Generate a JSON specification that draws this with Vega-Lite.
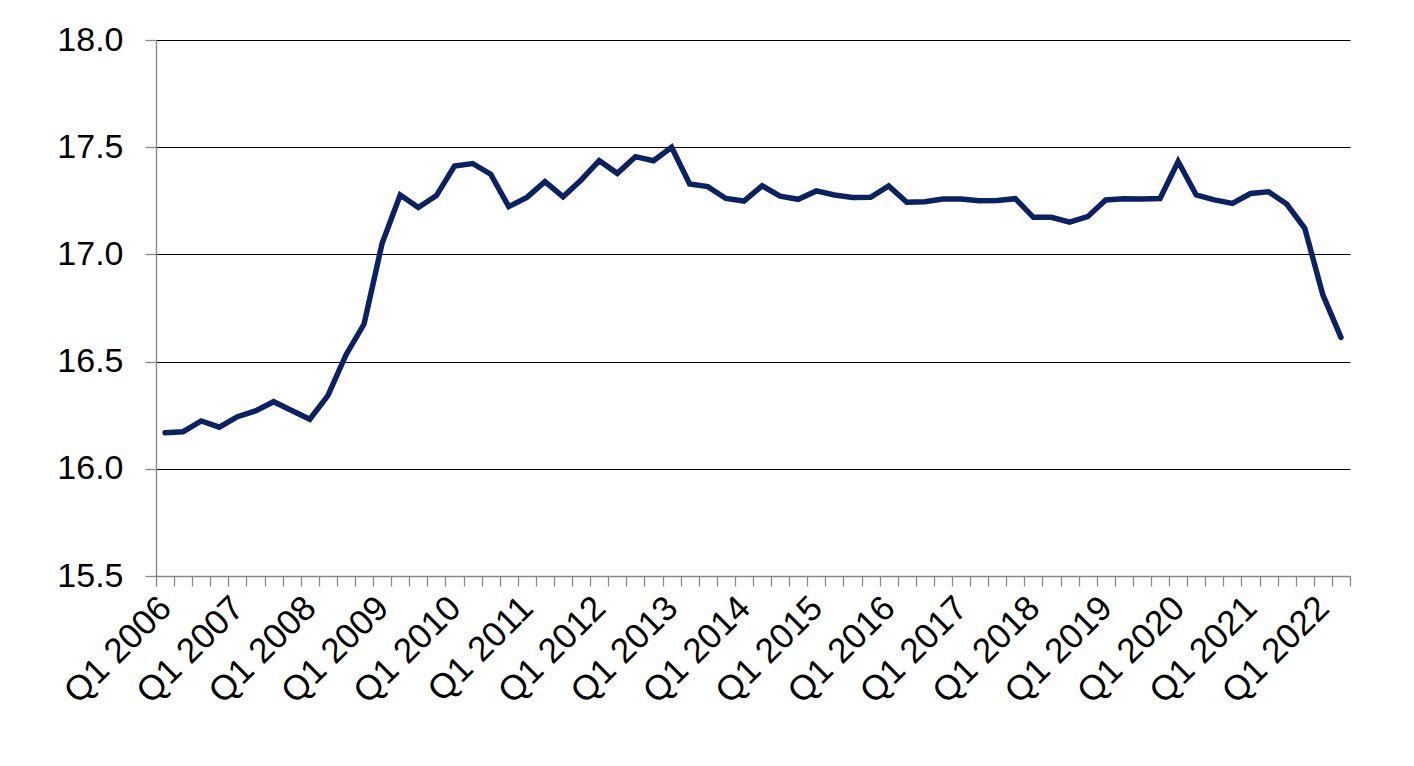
{
  "$schema": "https://vega.github.io/schema/vega-lite/v6.json",
  "autosize": "none",
  "padding": {"left": 156, "top": 40, "right": 64, "bottom": 190},
  "width": 1194,
  "height": 536,
  "background": "white",
  "config": {"view": {"stroke": null}, "font": "Liberation Sans"},
  "data": {"values": [
    {"q": "Q1 2006", "v": 16.168}, {"q": "Q2 2006", "v": 16.173}, {"q": "Q3 2006", "v": 16.223}, {"q": "Q4 2006", "v": 16.194},
    {"q": "Q1 2007", "v": 16.243}, {"q": "Q2 2007", "v": 16.27}, {"q": "Q3 2007", "v": 16.313}, {"q": "Q4 2007", "v": 16.272},
    {"q": "Q1 2008", "v": 16.231}, {"q": "Q2 2008", "v": 16.341}, {"q": "Q3 2008", "v": 16.531}, {"q": "Q4 2008", "v": 16.675},
    {"q": "Q1 2009", "v": 17.052}, {"q": "Q2 2009", "v": 17.277}, {"q": "Q3 2009", "v": 17.219}, {"q": "Q4 2009", "v": 17.274},
    {"q": "Q1 2010", "v": 17.412}, {"q": "Q2 2010", "v": 17.424}, {"q": "Q3 2010", "v": 17.374}, {"q": "Q4 2010", "v": 17.223},
    {"q": "Q1 2011", "v": 17.266}, {"q": "Q2 2011", "v": 17.339}, {"q": "Q3 2011", "v": 17.269}, {"q": "Q4 2011", "v": 17.347},
    {"q": "Q1 2012", "v": 17.437}, {"q": "Q2 2012", "v": 17.378}, {"q": "Q3 2012", "v": 17.456}, {"q": "Q4 2012", "v": 17.437},
    {"q": "Q1 2013", "v": 17.5}, {"q": "Q2 2013", "v": 17.328}, {"q": "Q3 2013", "v": 17.316}, {"q": "Q4 2013", "v": 17.261},
    {"q": "Q1 2014", "v": 17.249}, {"q": "Q2 2014", "v": 17.32}, {"q": "Q3 2014", "v": 17.272}, {"q": "Q4 2014", "v": 17.257},
    {"q": "Q1 2015", "v": 17.296}, {"q": "Q2 2015", "v": 17.277}, {"q": "Q3 2015", "v": 17.265}, {"q": "Q4 2015", "v": 17.266},
    {"q": "Q1 2016", "v": 17.319}, {"q": "Q2 2016", "v": 17.243}, {"q": "Q3 2016", "v": 17.246}, {"q": "Q4 2016", "v": 17.258},
    {"q": "Q1 2017", "v": 17.258}, {"q": "Q2 2017", "v": 17.25}, {"q": "Q3 2017", "v": 17.251}, {"q": "Q4 2017", "v": 17.26},
    {"q": "Q1 2018", "v": 17.173}, {"q": "Q2 2018", "v": 17.173}, {"q": "Q3 2018", "v": 17.15}, {"q": "Q4 2018", "v": 17.176},
    {"q": "Q1 2019", "v": 17.254}, {"q": "Q2 2019", "v": 17.26}, {"q": "Q3 2019", "v": 17.258}, {"q": "Q4 2019", "v": 17.261},
    {"q": "Q1 2020", "v": 17.433}, {"q": "Q2 2020", "v": 17.277}, {"q": "Q3 2020", "v": 17.254}, {"q": "Q4 2020", "v": 17.238},
    {"q": "Q1 2021", "v": 17.284}, {"q": "Q2 2021", "v": 17.292}, {"q": "Q3 2021", "v": 17.235}, {"q": "Q4 2021", "v": 17.122},
    {"q": "Q1 2022", "v": 16.811}, {"q": "Q2 2022", "v": 16.613}
  ]},
  "mark": {"type": "line", "color": "#0b2160", "strokeWidth": 5.5, "strokeJoin": "miter", "strokeCap": "round"},
  "encoding": {
    "x": {
      "field": "q", "type": "ordinal", "sort": null, "bandPosition": 0.5,
      "scale": {"type": "band", "paddingInner": 0, "paddingOuter": 0},
      "axis": {
        "title": null, "tickBand": "extent", "grid": false,
        "domainColor": "#868686", "domainWidth": 1.3, "tickColor": "#868686", "tickWidth": 1.3, "tickSize": 10,
        "labelExpr": "slice(datum.label,0,2)=='Q1' ? datum.label : ''",
        "labelOverlap": false, "labelAngle": -45, "labelAlign": "right", "labelBaseline": "middle",
        "labelFontSize": 35, "labelColor": "#000000", "labelPadding": 16, "labelFont": "Liberation Sans"
      }
    },
    "y": {
      "field": "v", "type": "quantitative",
      "scale": {"domain": [15.5, 18.0], "zero": false, "nice": false},
      "axis": {
        "title": null, "values": [15.5, 16.0, 16.5, 17.0, 17.5, 18.0], "format": ".1f",
        "grid": true, "gridColor": "#000000", "gridWidth": 1.2, "gridOpacity": 1,
        "domainColor": "#868686", "domainWidth": 1.3, "tickColor": "#868686", "tickWidth": 1.3, "tickSize": 11,
        "labelFontSize": 34, "labelColor": "#000000", "labelPadding": 22, "labelFont": "Liberation Sans"
      }
    }
  }
}
